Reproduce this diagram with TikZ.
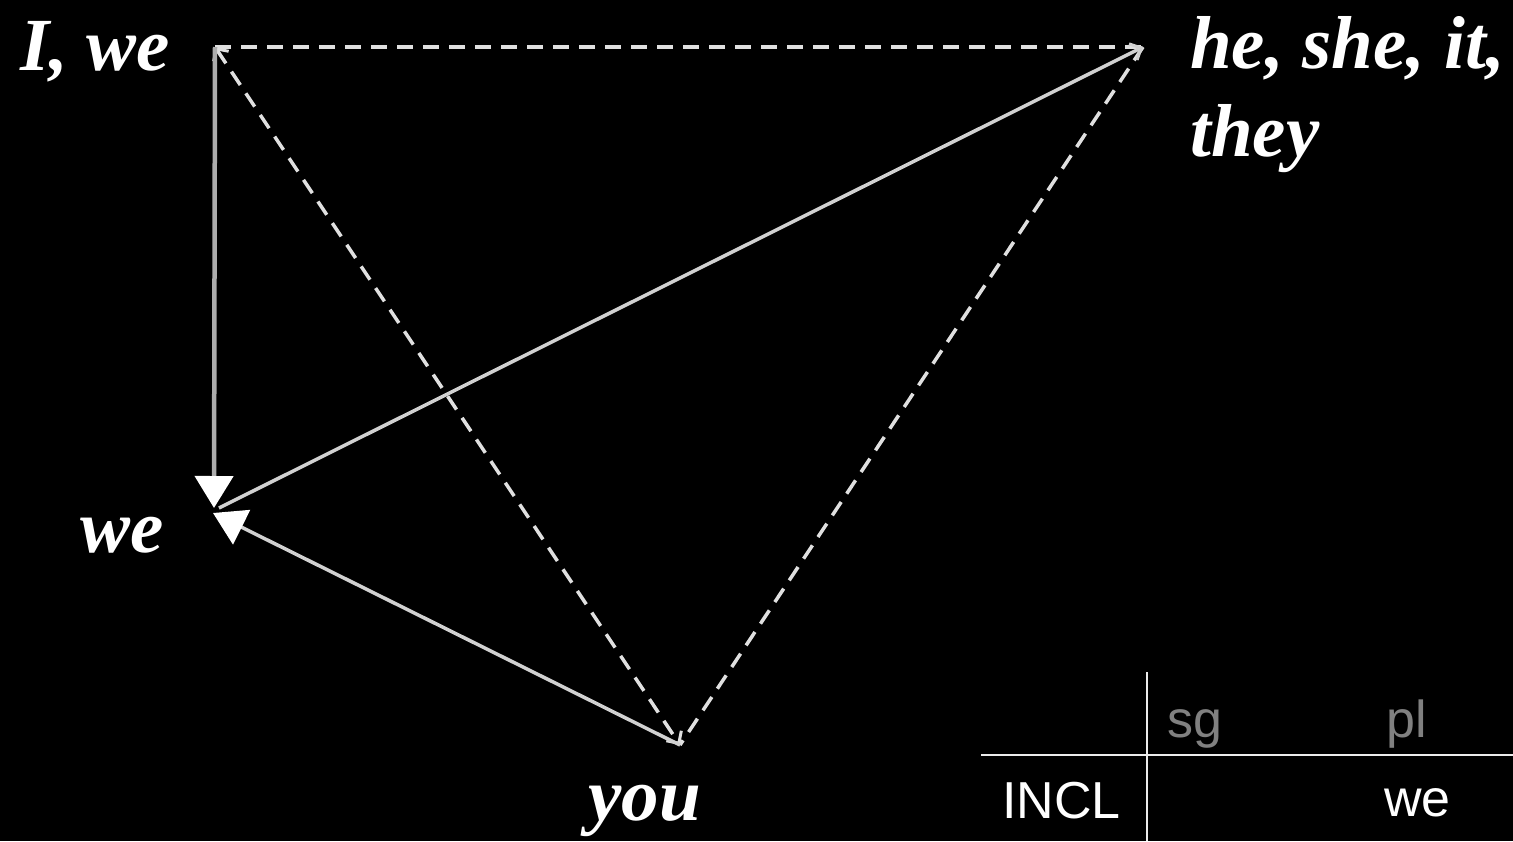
\documentclass[tikz,border=0pt]{standalone}
\usepackage{fontspec}
\setmainfont{Liberation Serif}
\newfontfamily\tabfont{Liberation Sans}
\usetikzlibrary{arrows.meta}
\tikzset{mybarb/.tip={Straight Barb[length=9pt,width=18pt,line width=3pt]}}
\begin{document}
\begin{tikzpicture}[x=1pt,y=-1pt,
  lbl/.style={font=\fontsize{75}{88}\selectfont\bfseries\itshape, text=white, inner sep=0pt, anchor=base west},
  tab/.style={font=\tabfont\fontsize{52}{60}\selectfont, inner sep=0pt, anchor=base west},
  solidline/.style={draw=white!82!black, line width=3.5pt},
  vline/.style={draw=white!68!black, line width=4.5pt},
  dashline/.style={draw=white!88!black, line width=3.5pt, dash pattern=on 16pt off 10pt},
  big/.style={-{Triangle[width=38pt,length=32pt,color=white]}},
  rule/.style={draw=white!92!black, line width=2.5pt}
]
\fill[black] (0,0) rectangle (1513,841);
\useasboundingbox (0,0) rectangle (1513,841);

% corner points
\coordinate (A) at (215,47);
\coordinate (B) at (1143,47);
\coordinate (C) at (680,745);
\coordinate (W1) at (214,508);
\coordinate (W2) at (219,508);
\coordinate (W3) at (213,513);

% labels
\node[lbl] (lIwe) at (20,70) {I, we};
\node[lbl] (lhe) at (1190,68) {he, she, it,};
\node[lbl] (lthey) at (1190,156) {they};
\node[lbl] (lwe) at (80,552) {we};
\node[lbl] (lyou) at (588,820) {you};

% dashed triangle
\draw[dashline] (A) -- (B);
\draw[dashline, mybarb-mybarb] (A) -- (C);
\draw[dashline] (B) -- (C);

% solid arrows
\draw[vline, big] (A) -- (W1);
\draw[solidline, mybarb-] (B) -- (W2);
\draw[solidline, big] (C) -- (W3);

% table
\coordinate (tv1) at (1147,672);
\coordinate (tv2) at (1147,841);
\coordinate (th1) at (981,755);
\coordinate (th2) at (1513,755);
\draw[rule] (tv1) -- (tv2);
\draw[rule] (th1) -- (th2);
\node[tab, text=white!50!black] (sg) at (1167,737) {sg};
\node[tab, text=white!50!black] (pl) at (1386,737) {pl};
\node[tab, text=white] (incl) at (1002,818) {INCL};
\node[tab, text=white] (twe) at (1384,816) {we};
\end{tikzpicture}
\end{document}
